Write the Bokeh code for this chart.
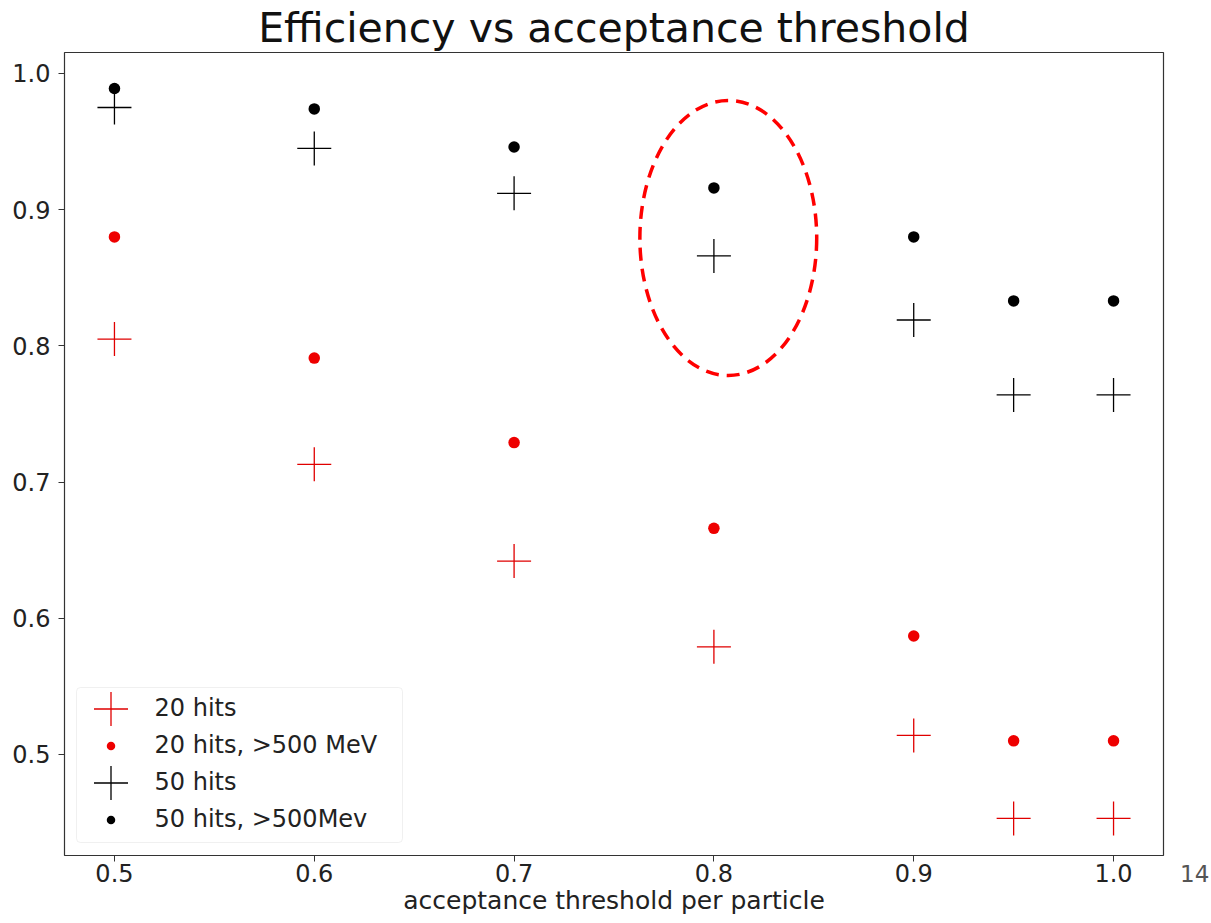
from bokeh.plotting import figure
from bokeh.layouts import row
from bokeh.models import (ColumnDataSource, Range1d, FixedTicker, PrintfTickFormatter,
                          Legend, LegendItem, Title, BoxAnnotation, Div)
from bokeh.embed import file_html
from bokeh.resources import INLINE

thresholds = [0.5, 0.6, 0.7, 0.8, 0.9, 0.95, 1.0]
hits20 = [0.805, 0.713, 0.642, 0.579, 0.514, 0.453, 0.453]
hits20_500 = [0.880, 0.791, 0.729, 0.666, 0.587, 0.510, 0.510]
hits50 = [0.975, 0.945, 0.912, 0.866, 0.819, 0.764, 0.764]
hits50_500 = [0.989, 0.974, 0.946, 0.916, 0.880, 0.833, 0.833]
labels = ["20 hits", "20 hits, >500 MeV", "50 hits", "50 hits, >500Mev"]
x_ticks = [0.5, 0.6, 0.7, 0.8, 0.9, 1.0]
y_ticks = [0.5, 0.6, 0.7, 0.8, 0.9, 1.0]
highlight = dict(x=[0.8072], y=[0.8792], w=[0.0885], h=[0.2019])
corner_note = "14"

FONT = "DejaVu Sans"
TXT = "#222222"
X0, X1 = 0.475, 1.025
Y0, Y1 = 0.4258, 1.0154

p = figure(width=1167, height=923, output_backend="svg", toolbar_location=None,
           x_range=Range1d(X0, X1), y_range=Range1d(Y0, Y1),
           min_border_left=64, min_border_right=4, min_border_top=52, min_border_bottom=68)
p.title = Title(text="Efficiency vs acceptance threshold", align="center",
                text_font=FONT, text_font_size="41px", text_font_style="normal",
                text_color="#111111", standoff=2, offset=0)
p.grid.visible = False
p.background_fill_color = "white"
p.border_fill_color = "white"
p.outline_line_color = "#333333"
p.outline_line_width = 1.2

for ax in (p.xaxis[0], p.yaxis[0]):
    ax.axis_line_color = None
    ax.minor_tick_line_color = None
    ax.major_tick_in = 0
    ax.major_tick_out = 6
    ax.major_tick_line_color = "#333333"
    ax.major_label_text_font = FONT
    ax.major_label_text_font_size = "24px"
    ax.major_label_text_color = TXT
    ax.formatter = PrintfTickFormatter(format="%.1f")
p.xaxis.ticker = FixedTicker(ticks=x_ticks)
p.yaxis.ticker = FixedTicker(ticks=y_ticks)
p.xaxis.major_label_standoff = 2
p.yaxis.major_label_standoff = 8
p.xaxis.axis_label = "acceptance threshold per particle"
p.xaxis.axis_label_text_font = FONT
p.xaxis.axis_label_text_font_size = "25px"
p.xaxis.axis_label_text_font_style = "normal"
p.xaxis.axis_label_text_color = TXT
p.xaxis.axis_label_standoff = 1

# legend frame (drawn separately so the legend glyphs can be large like matplotlib's)
fw = 1099.0  # frame width px
fh = 803.0   # frame height px
def px_x(px): return X0 + (px - 64) / fw * (X1 - X0)
def px_y(py): return Y1 - (py - 52) / fh * (Y1 - Y0)
p.add_layout(BoxAnnotation(left=px_x(76), right=px_x(402), top=px_y(687), bottom=px_y(842),
                           fill_color="white", fill_alpha=0.85, line_color="#cccccc",
                           line_width=1, border_radius=4))

src = ColumnDataSource(dict(x=thresholds, a=hits20, b=hits20_500, c=hits50, d=hits50_500))
r1 = p.scatter("x", "a", source=src, marker="cross", size=34, line_color="#e00000", line_width=1.3)
r2 = p.scatter("x", "b", source=src, marker="dot", size=46, line_color="#ee0000")
r3 = p.scatter("x", "c", source=src, marker="cross", size=34, line_color="black", line_width=1.3)
r4 = p.scatter("x", "d", source=src, marker="dot", size=46, line_color="black")

p.ellipse(x="x", y="y", width="w", height="h", source=ColumnDataSource(highlight),
          fill_color=None, line_color="#ff0000", line_width=3.5, line_dash="13 8")

# one single-entry legend per series so the entries sit 37 px apart with large glyphs
row_centers = [708, 745, 782, 819]
for lab, rend, cy in zip(labels, [r1, r2, r3, r4], row_centers):
    lg = Legend(items=[LegendItem(label=lab, renderers=[rend])],
                location=(3.5, 855 - 42.5 - cy), padding=0, margin=0, spacing=0,
                glyph_width=85, glyph_height=85, label_height=85, label_standoff=2,
                label_text_font=FONT, label_text_font_size="24px", label_text_color=TXT,
                border_line_color=None, background_fill_color=None, background_fill_alpha=0)
    p.add_layout(lg)

# stray "14" beside the last x tick label
note = Div(text=corner_note, width=44, height=923,
           styles={"padding-top": "855px", "padding-left": "8px", "text-align": "left",
                   "font-family": "'DejaVu Sans'", "font-size": "23px", "color": "#555555",
                   "line-height": "28px", "box-sizing": "border-box", "overflow": "visible"})

layout = row(p, note, spacing=0)
open("out.html", "w").write(file_html(layout, INLINE))
